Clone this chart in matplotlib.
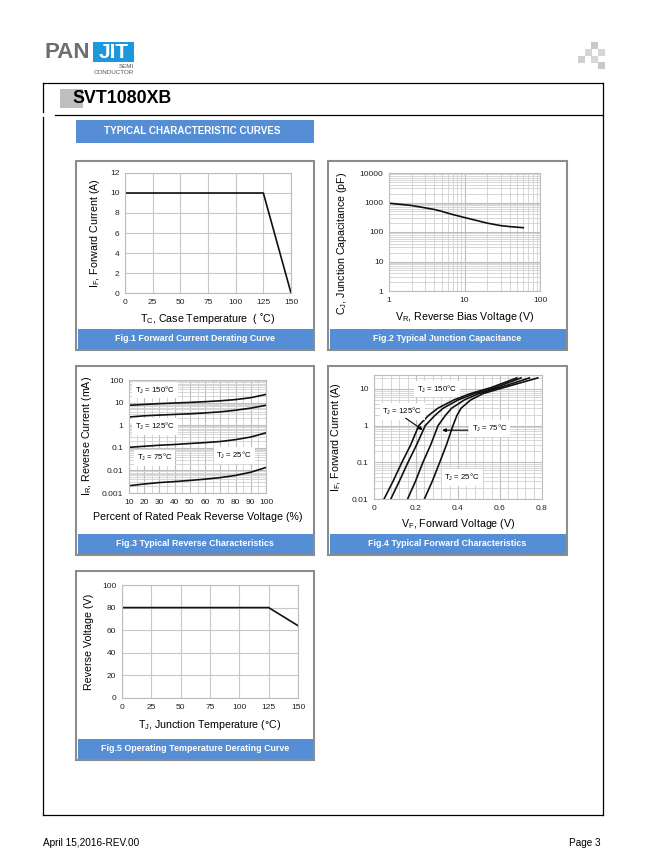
import matplotlib
matplotlib.use("Agg")
import matplotlib.pyplot as plt
import matplotlib.ticker as mticker
from matplotlib.patches import Rectangle

plt.rcParams['font.family'] = ['Liberation Sans', 'DejaVu Sans']
plt.rcParams['mathtext.fontset'] = 'custom'
plt.rcParams['mathtext.rm'] = 'Liberation Sans'
plt.rcParams['mathtext.it'] = 'Liberation Sans:italic'
plt.rcParams['mathtext.bf'] = 'Liberation Sans:bold'

# ---------------- data ----------------
fig1_temp = [0, 125, 150]
fig1_current = [10, 10, 0]

fig2_vr = [1, 2, 3, 4, 5, 7, 10, 15, 20, 30, 40, 60]
fig2_cj = [950, 790, 660, 580, 500, 390, 310, 240, 200, 165, 152, 140]

fig3_pct = [10, 20, 30, 40, 50, 60, 70, 80, 90, 100]
fig3_150 = [7.6, 8.3, 9.0, 9.6, 10.2, 11.0, 12.0, 13.6, 16.5, 23.0]
fig3_125 = [2.3, 2.6, 2.8, 3.0, 3.2, 3.5, 3.9, 4.6, 5.7, 7.6]
fig3_75 = [0.105, 0.117, 0.13, 0.14, 0.155, 0.17, 0.19, 0.23, 0.30, 0.46]
fig3_25 = [0.0021, 0.0025, 0.0029, 0.0032, 0.0036, 0.0041, 0.0048, 0.006, 0.0083, 0.0135]

fig4_i = [0.01, 0.03, 0.1, 0.3, 1, 1.9, 3, 5, 7.5, 11, 20]
fig4_v150 = [0.048, 0.09, 0.133, 0.175, 0.213, 0.26, 0.305, 0.38, 0.46, 0.56, 0.68]
fig4_v125 = [0.080, 0.12, 0.162, 0.203, 0.244, 0.29, 0.33, 0.40, 0.48, 0.58, 0.70]
fig4_v75 = [0.160, 0.197, 0.233, 0.27, 0.305, 0.34, 0.37, 0.43, 0.50, 0.60, 0.74]
fig4_v25 = [0.240, 0.277, 0.313, 0.345, 0.376, 0.395, 0.415, 0.46, 0.52, 0.62, 0.78]

fig5_temp = [0, 125, 150]
fig5_volt = [80, 80, 64]

captions = ["Fig.1 Forward Current Derating Curve",
            "Fig.2 Typical Junction Capacitance",
            "Fig.3 Typical Reverse Characteristics",
            "Fig.4 Typical Forward Characteristics",
            "Fig.5 Operating Temperature Derating Curve"]

# ---------------- page ----------------
W, H = 648, 864
fig = plt.figure(figsize=(W / 100, H / 100), dpi=100)
page = fig.add_axes([0, 0, 1, 1])
page.set_xlim(0, W)
page.set_ylim(H, 0)
page.axis('off')

BLUE = '#558ed5'
GRID = '#c8c8c8'

# logo
page.text(44, 53, 'PAN', fontsize=16, fontweight='bold', color='#6d6e71', ha='left', va='center')
page.add_patch(Rectangle((93, 42), 41, 20, color='#1e98dc', lw=0))
page.text(113.5, 53, 'JIT', fontsize=15, fontweight='bold', color='white', ha='center', va='center')
page.text(134, 66, 'SEMI', fontsize=4.5, color='#555555', ha='right', va='center')
page.text(134, 73, 'CONDUCTOR', fontsize=4.5, color='#555555', ha='right', va='center')

# top-right squares
for (sx, sy, c) in [(591, 42, '#c9c9c9'), (585, 49, '#d6d6d6'), (598, 49, '#d6d6d6'),
                    (578, 56, '#cfcfcf'), (591, 56, '#d6d6d6'), (598, 62, '#c9c9c9')]:
    page.add_patch(Rectangle((sx, sy), 6.5, 6.5, color=c, lw=0))

# frame
fc = 'black'
page.plot([43, 603], [83, 83], color=fc, lw=0.9)
page.plot([43, 43], [83, 112], color=fc, lw=0.9)
page.plot([43, 43], [117, 815], color=fc, lw=0.9)
page.plot([603, 603], [83, 815], color=fc, lw=0.9)
page.plot([43, 603], [815, 815], color=fc, lw=0.9)
page.plot([55, 603], [115, 115], color=fc, lw=0.9)

# title
page.add_patch(Rectangle((60, 89), 23, 19, color='#bfbfbf', lw=0))
page.text(72, 98.5, 'SVT1080XB', fontsize=12.8, fontweight='bold', ha='left', va='center')

page.add_patch(Rectangle((76, 120), 238, 23, color=BLUE, lw=0))
page.text(192, 131.5, 'TYPICAL CHARACTERISTIC CURVES', fontsize=7.1, fontweight='bold',
          color='white', ha='center', va='center')

# footer
page.text(43, 843, 'April 15,2016-REV.00', fontsize=7.2, ha='left', va='center',
          family=['Liberation Sans Narrow', 'Liberation Sans'])
page.text(601, 843, 'Page 3', fontsize=7.2, ha='right', va='center',
          family=['Liberation Sans Narrow', 'Liberation Sans'])

# panels
panels = [(76, 161, 314, 350), (328, 161, 567, 350), (76, 366, 314, 555),
          (328, 366, 567, 555), (76, 571, 314, 760)]
for (x0, y0, x1, y1), cap in zip(panels, captions):
    page.add_patch(Rectangle((x0, y0), x1 - x0, y1 - y0, facecolor='white',
                             edgecolor='#8c8c8c', lw=1.5))
    page.add_patch(Rectangle((x0 + 1.5, y1 - 21), x1 - x0 - 3, 19.5, color=BLUE, lw=0))
    page.text((x0 + x1) / 2, y1 - 11.5, cap, fontsize=6.4, fontweight='bold',
              color='white', ha='center', va='center')


def ax_at(x0, y0, x1, y1):
    return fig.add_axes([x0 / W, 1 - y1 / H, (x1 - x0) / W, (y1 - y0) / H])


def style(ax):
    for s in ax.spines.values():
        s.set_color('#bdbdbd')
        s.set_linewidth(0.8)
    ax.tick_params(which='both', length=0, labelsize=6, pad=4, colors='#222222')
    ax.set_axisbelow(True)


fmt = mticker.FuncFormatter(lambda v, p: f"{v:g}")
LAB = 7.7
CURVE = '#111111'

# ---- Fig 1 ----
ax = ax_at(125, 173, 291, 293)
style(ax)
ax.plot(fig1_temp, fig1_current, color=CURVE, lw=1.2)
ax.set_xlim(0, 150)
ax.set_ylim(0, 12)
ax.set_xticks(range(0, 151, 25))
ax.set_yticks(range(0, 13, 2))
ax.grid(True, color=GRID, lw=0.8)
ax.set_ylabel(r'I$_\mathregular{F}$, Forward Current (A)', fontsize=LAB, labelpad=6)
ax.set_xlabel(r'T$_\mathregular{C}$, Case Temperature  ( ˚C)', fontsize=LAB, labelpad=4)

# ---- Fig 2 ----
ax = ax_at(389, 173, 540, 291)
style(ax)
ax.set_xscale('log')
ax.set_yscale('log')
ax.plot(fig2_vr, fig2_cj, color=CURVE, lw=1.2)
ax.set_xlim(1, 100)
ax.set_ylim(1, 10000)
ax.xaxis.set_major_formatter(fmt)
ax.yaxis.set_major_formatter(fmt)
ax.xaxis.set_minor_formatter(mticker.NullFormatter())
ax.yaxis.set_minor_formatter(mticker.NullFormatter())
ax.grid(True, which='major', color='#bdbdbd', lw=0.8)
ax.grid(True, which='minor', color='#d0d0d0', lw=0.6)
ax.set_ylabel(r'C$_\mathregular{J}$, Junction Capacitance (pF)', fontsize=LAB)
ax.yaxis.set_label_coords(-0.265, 0.40)
ax.set_xlabel(r'V$_\mathregular{R}$, Reverse Bias Voltage (V)', fontsize=LAB, labelpad=5)

# ---- Fig 3 ----
ax = ax_at(129, 380, 266, 493)
style(ax)
ax.set_yscale('log')
for ser in (fig3_150, fig3_125, fig3_75, fig3_25):
    ax.plot(fig3_pct, ser, color=CURVE, lw=1.2)
ax.set_xlim(10, 100)
ax.set_ylim(0.001, 100)
ax.set_xticks(range(10, 101, 10))
ax.set_xticks(range(15, 100, 10), minor=True)
ax.yaxis.set_major_formatter(fmt)
ax.yaxis.set_minor_formatter(mticker.NullFormatter())
ax.grid(True, which='major', color='#bdbdbd', lw=0.8)
ax.grid(True, which='minor', color='#d0d0d0', lw=0.6)
bb = dict(boxstyle='square,pad=0.35', fc='white', ec='none')
ax.text(27, 36, r'T$_\mathregular{J}$ = 150°C', fontsize=5.6, ha='center', va='center', bbox=bb)
ax.text(27, 0.85, r'T$_\mathregular{J}$ = 125°C', fontsize=5.6, ha='center', va='center', bbox=bb)
ax.text(27, 0.036, r'T$_\mathregular{J}$ = 75°C', fontsize=5.6, ha='center', va='center', bbox=bb)
ax.text(79, 0.045, r'T$_\mathregular{J}$ = 25°C', fontsize=5.6, ha='center', va='center', bbox=bb)
ax.set_ylabel(r'I$_\mathregular{R}$, Reverse Current (mA)', fontsize=LAB, labelpad=6)
ax.set_xlabel('Percent of Rated Peak Reverse Voltage (%)', fontsize=LAB, labelpad=5)

# ---- Fig 4 ----
ax = ax_at(374, 375, 542, 499)
style(ax)
ax.set_yscale('log')
for ser in (fig4_v150, fig4_v125, fig4_v75, fig4_v25):
    ax.plot(ser, fig4_i, color=CURVE, lw=1.2)
ax.set_xlim(0, 0.8)
ax.set_ylim(0.01, 24)
ax.set_xticks([0, 0.2, 0.4, 0.6, 0.8])
ax.set_xticks([i * 0.04 for i in range(21)], minor=True)
ax.xaxis.set_major_formatter(fmt)
ax.yaxis.set_major_formatter(fmt)
ax.yaxis.set_minor_formatter(mticker.NullFormatter())
ax.grid(True, which='major', color='#bdbdbd', lw=0.8)
ax.grid(True, which='minor', color='#d0d0d0', lw=0.6)
ax.text(0.30, 10, r'T$_\mathregular{J}$ = 150°C', fontsize=5.6, ha='center', va='center', bbox=bb)
ax.text(0.135, 2.45, r'T$_\mathregular{J}$ = 125°C', fontsize=5.6, ha='center', va='center', bbox=bb)
ax.text(0.55, 0.83, r'T$_\mathregular{J}$ = 75°C', fontsize=5.6, ha='center', va='center', bbox=bb)
ax.text(0.42, 0.038, r'T$_\mathregular{J}$ = 25°C', fontsize=5.6, ha='center', va='center', bbox=bb)
ax.annotate('', xy=(0.243, 0.69), xytext=(0.14, 1.76),
            arrowprops=dict(arrowstyle='-|>', color='black', lw=0.8, mutation_scale=5))
ax.annotate('', xy=(0.312, 0.75), xytext=(0.46, 0.75),
            arrowprops=dict(arrowstyle='-|>', color='black', lw=0.8, mutation_scale=5))
ax.set_ylabel(r'I$_\mathregular{F}$, Forward Current (A)', fontsize=LAB, labelpad=6)
ax.set_xlabel(r'V$_\mathregular{F}$, Forward Voltage (V)', fontsize=LAB, labelpad=4)

# ---- Fig 5 ----
ax = ax_at(122, 585, 298, 698)
style(ax)
ax.plot(fig5_temp, fig5_volt, color=CURVE, lw=1.2)
ax.set_xlim(0, 150)
ax.set_ylim(0, 100)
ax.set_xticks(range(0, 151, 25))
ax.set_yticks(range(0, 101, 20))
ax.grid(True, color=GRID, lw=0.8)
ax.set_ylabel('Reverse Voltage (V)', fontsize=LAB, labelpad=6)
ax.set_xlabel(r'T$_\mathregular{J}$, Junction Temperature (°C)', fontsize=LAB, labelpad=5)

fig.savefig('out.png', dpi=100)
